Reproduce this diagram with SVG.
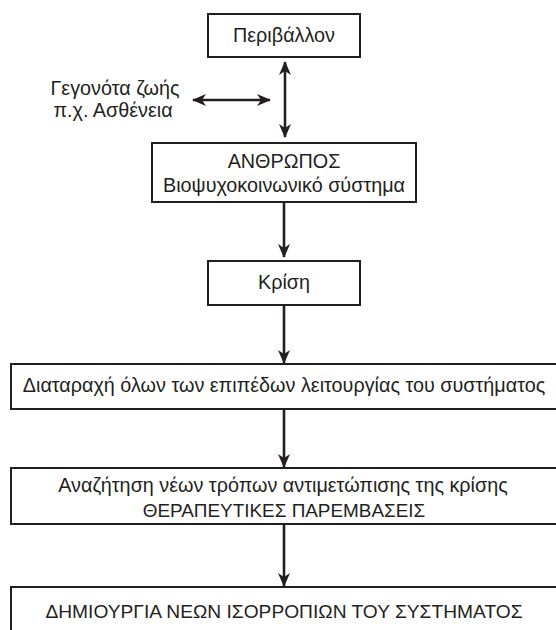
<svg xmlns="http://www.w3.org/2000/svg" width="556" height="630" viewBox="0 0 556 630">
<style>
.box{fill:#fff;stroke:#231f20;stroke-width:2}
.t{font-family:"Liberation Sans",Arial,sans-serif;font-size:19.8px;fill:#231f20;text-anchor:middle}
.u{font-size:19px}
.ln{stroke:#231f20;stroke-width:2.6;fill:none}
</style>
<defs>
<marker id="ah" viewBox="0 0 14 12" refX="13" refY="6" markerWidth="14" markerHeight="12" markerUnits="userSpaceOnUse" orient="auto-start-reverse">
<path d="M0,0 L14,6 L0,12 L4,6 Z" fill="#231f20"/>
</marker>
</defs>
<rect width="556" height="630" fill="#fff"/>
<g id="connectors">
<line class="ln" x1="285" y1="62" x2="285" y2="137" marker-start="url(#ah)" marker-end="url(#ah)"/>
<line class="ln" x1="193" y1="100" x2="270" y2="100" marker-start="url(#ah)" marker-end="url(#ah)"/>
<line class="ln" x1="284" y1="202" x2="284" y2="257" marker-end="url(#ah)"/>
<line class="ln" x1="284" y1="305" x2="284" y2="363" marker-end="url(#ah)"/>
<line class="ln" x1="284" y1="409" x2="284" y2="467" marker-end="url(#ah)"/>
<line class="ln" x1="284" y1="524" x2="284" y2="586" marker-end="url(#ah)"/>
</g>
<g id="perivallon">
<rect class="box" x="208" y="14" width="152" height="43"/>
<text class="t" x="284" y="42">Περιβάλλον</text>
</g>
<g id="gegonota">
<text class="t" x="115" y="95">Γεγονότα ζωής</text>
<text class="t" x="113" y="117">π.χ. Ασθένεια</text>
</g>
<g id="anthropos">
<rect class="box" x="152" y="143" width="264" height="59"/>
<text class="t" x="284" y="168">ΑΝΘΡΩΠΟΣ</text>
<text class="t" x="284" y="192">Βιοψυχοκοινωνικό σύστημα</text>
</g>
<g id="krisi">
<rect class="box" x="208" y="261" width="152" height="44"/>
<text class="t" x="284" y="289">Κρίση</text>
</g>
<g id="diataraxi">
<rect class="box" x="11" y="364" width="560" height="45"/>
<text class="t" x="284" y="392">Διαταραχή όλων των επιπέδων λειτουργίας του συστήματος</text>
</g>
<g id="anazitisi">
<rect class="box" x="11" y="468" width="560" height="56"/>
<text class="t" x="283" y="492">Αναζήτηση νέων τρόπων αντιμετώπισης της κρίσης</text>
<text class="t u" x="284" y="517" style="font-size:18.9px">ΘΕΡΑΠΕΥΤΙΚΕΣ ΠΑΡΕΜΒΑΣΕΙΣ</text>
</g>
<g id="dimiourgia">
<rect class="box" x="11" y="587" width="560" height="60"/>
<text class="t u" x="284" y="618" style="font-size:19.2px">ΔΗΜΙΟΥΡΓΙΑ ΝΕΩΝ ΙΣΟΡΡΟΠΙΩΝ ΤΟΥ ΣΥΣΤΗΜΑΤΟΣ</text>
</g>
</svg>
